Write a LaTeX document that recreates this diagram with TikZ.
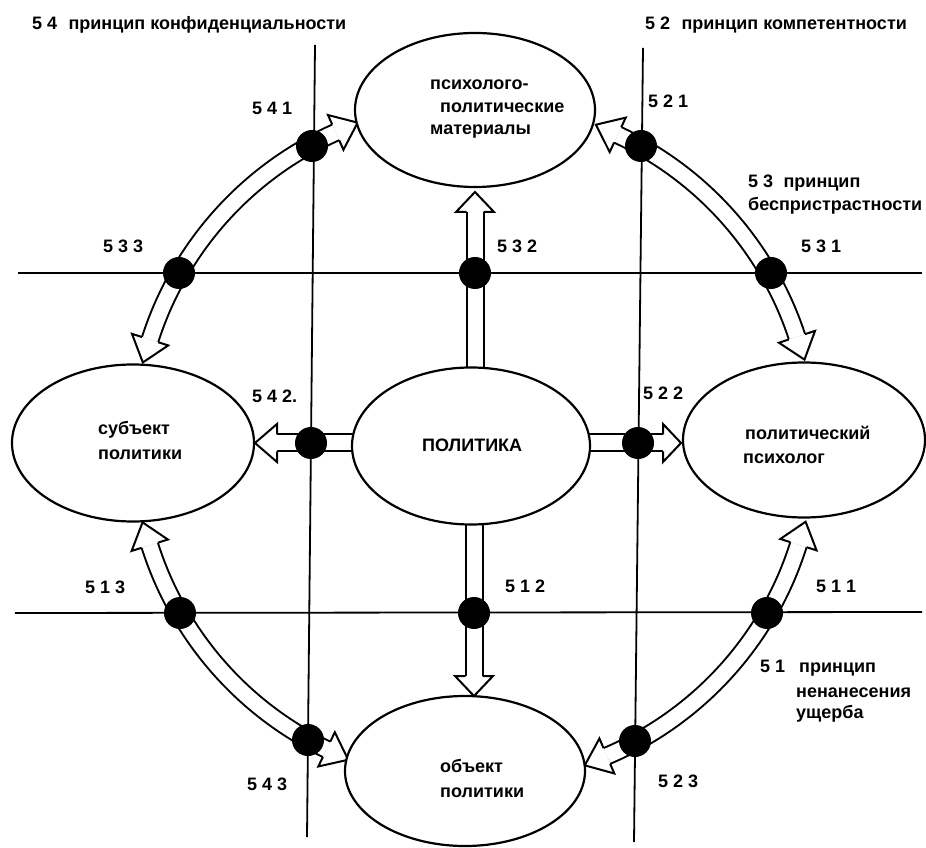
\documentclass[tikz,border=0pt]{standalone}
\usepackage{fontspec}
\setmainfont{Liberation Sans}
\usetikzlibrary{shapes.geometric,calc}
\pgfdeclarelayer{bg}
\pgfsetlayers{bg,main}
% hollow arrow head: #1 base point, #2 direction, #3 length
\newcommand{\arhead}[3]{%
  \begin{scope}[shift={(#1)}, rotate=#2]
    \fill[white] (0pt,-19pt) -- (#3,0pt) -- (0pt,19pt) -- cycle;
    \draw[line width=2pt, line join=miter, miter limit=20]
      (0pt,8.5pt) -- (0pt,19pt) -- (#3,0pt) -- (0pt,-19pt) -- (0pt,-8.5pt);
  \end{scope}}
\begin{document}
\begin{tikzpicture}[x=1pt,y=1pt,
  hollow/.style={draw=black, line width=2pt, double=white, double distance=15pt},
  gridline/.style={line width=1.8pt},
  oval/.style={shape=ellipse, draw, line width=2.2pt, fill=white, inner sep=0pt},
  dotn/.style={circle, fill=black, inner sep=0pt, minimum size=32pt},
  lbl/.style={font=\fontsize{18}{22}\selectfont\bfseries, inner sep=0pt, anchor=base west},
]
\useasboundingbox (0,0) rectangle (926,847);
\begin{pgfonlayer}{bg}
\fill[white] (0,0) rectangle (926,847);
\end{pgfonlayer}

% ellipses
\node[oval, minimum width=240pt, minimum height=154pt] (mat) at (475,737) {};
\node[oval, minimum width=242pt, minimum height=157pt] (sub) at (133,404) {};
\node[oval, minimum width=238pt, minimum height=157pt] (pol) at (471,401) {};
\node[oval, minimum width=242pt, minimum height=155pt] (psy) at (804,407) {};
\node[oval, minimum width=240pt, minimum height=150pt] (obj) at (465,76) {};

\coordinate (C) at (474,404);

\begin{pgfonlayer}{bg}
% grid lines
\draw[gridline] (18,574) -- (922,574);
\draw[gridline] (15,234) -- (922,235);
\draw[gridline] (315,802) -- (307,10);
\draw[gridline] (643,799) -- (634,5);

% straight arrows
\coordinate (vt) at (475,635);
\draw[hollow] (vt |- pol.center) -- (vt);
\arhead{vt}{90}{20pt}
\coordinate (vb) at (474,171);
\draw[hollow] (vb |- pol.center) -- (vb);
\arhead{vb}{-90}{20pt}
\coordinate (hl) at (277,404);
\draw[hollow] (hl -| pol.center) -- (hl);
\arhead{hl}{180}{22pt}
\coordinate (hr) at (663,404);
\draw[hollow] (hr -| pol.center) -- (hr);
\arhead{hr}{0}{18pt}

% curved arrows
\coordinate (a1s) at ($(C)+(162.3:340pt)$);
\draw[hollow] (a1s) arc[start angle=162.3, end angle=114, radius=340pt];
\arhead{$(C)+(114:340pt)$}{24}{24pt}
\arhead{a1s}{252.3}{24pt}

\coordinate (a2s) at ($(C)+(65:340pt)$);
\draw[hollow] (a2s) arc[start angle=65, end angle=18.2, radius=340pt];
\arhead{$(C)+(18.2:340pt)$}{-71.8}{24pt}
\arhead{a2s}{155}{24pt}

\coordinate (a3s) at ($(C)+(-17.4:340pt)$);
\draw[hollow] (a3s) arc[start angle=-17.4, end angle=-67, radius=340pt];
\arhead{$(C)+(-67:340pt)$}{-157}{24pt}
\arhead{a3s}{72.6}{24pt}

\coordinate (a4s) at ($(C)+(197.5:340pt)$);
\draw[hollow] (a4s) arc[start angle=197.5, end angle=244.3, radius=340pt];
\arhead{$(C)+(244.3:340pt)$}{334.3}{24pt}
\arhead{a4s}{107.5}{24pt}
\end{pgfonlayer}

% dots
\node[dotn] (d541) at (312,701) {};
\node[dotn] (d533) at (179,574) {};
\node[dotn] (d532) at (475,574) {};
\node[dotn] (d521) at (641,701) {};
\node[dotn] (d531) at (771,574) {};
\node[dotn] (d542) at (311,404) {};
\node[dotn] (d522) at (638,404) {};
\node[dotn] (d513) at (180,234) {};
\node[dotn] (d512) at (474,234) {};
\node[dotn] (d511) at (767,234) {};
\node[dotn] (d543) at (308,107) {};
\node[dotn] (d523) at (635,106) {};

% headers and labels
\node[lbl] (h54) at (32,817) {5 4 \hspace{0.35em}принцип конфиденциальности};
\node[lbl] (h52) at (645,817) {5 2 \hspace{0.35em}принцип компетентности};
\node[lbl] (l541) at (252,732) {5 4 1};
\node[lbl] (l533) at (103,594) {5 3 3};
\node[lbl] (l521) at (648,739) {5 2 1};
\node[lbl] (h53a) at (748,659) {5 3 \hspace{0.3em}принцип};
\node[lbl] (h53b) at (748,636) {беспристрастности};
\node[lbl] (l531) at (801,594) {5 3 1};
\node[lbl] (l532) at (497,594) {5 3 2};
\node[lbl] (l542) at (252,444) {5 4 2.};
\node[lbl] (l522) at (643,447) {5 2 2};
\node[lbl] (l513) at (85,254) {5 1 3};
\node[lbl] (l512) at (505,255) {5 1 2};
\node[lbl] (l511) at (816,255) {5 1 1};
\node[lbl] (h51a) at (760,175) {5 1\hspace{14pt}принцип};
\node[lbl] (h51b) at (796,150) {ненанесения};
\node[lbl] (h51c) at (796,129) {ущерба};
\node[lbl] (l523) at (658,60) {5 2 3};
\node[lbl] (l543) at (247,57) {5 4 3};

% ellipse texts
\node[lbl] (t1a) at (430,757) {психолого-};
\node[lbl] (t1b) at (440,734) {политические};
\node[lbl] (t1c) at (430,712) {материалы};
\node[lbl] (t2a) at (98,412) {субъект};
\node[lbl] (t2b) at (98,388) {политики};
\node[lbl] (t3) at (422,395) {ПОЛИТИКА};
\node[lbl] (t4a) at (745,407) {политический};
\node[lbl] (t4b) at (743,384) {психолог};
\node[lbl] (t5a) at (440,75) {объект};
\node[lbl] (t5b) at (440,50) {политики};
\end{tikzpicture}
\end{document}
